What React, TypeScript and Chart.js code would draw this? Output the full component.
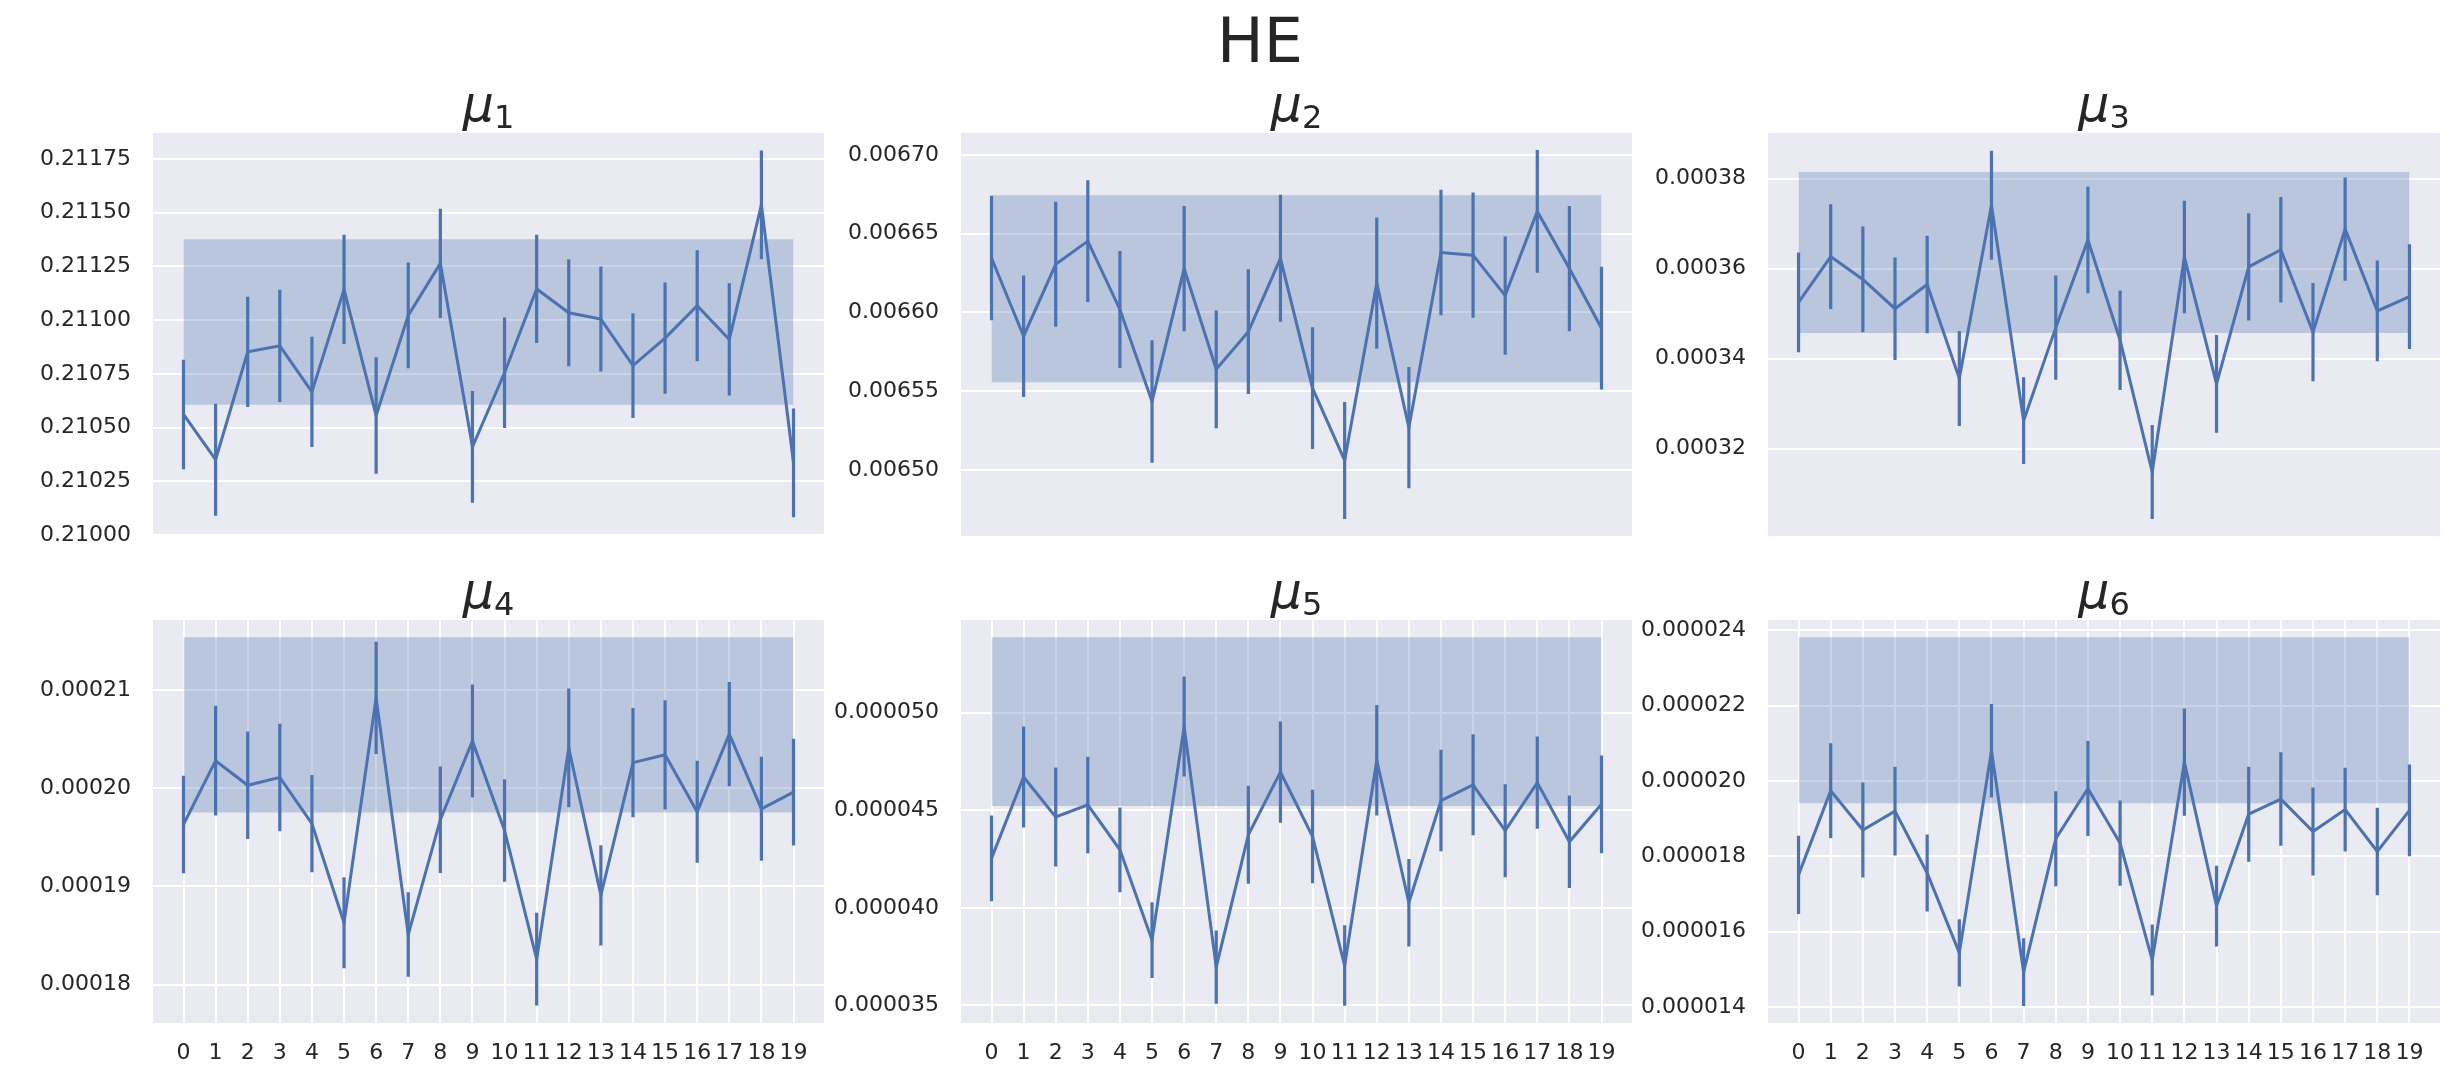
import React, { useEffect, useRef } from "react";
import { Chart, registerables } from "chart.js";

Chart.register(...registerables);

// ---------------- data ----------------
const steps = [0, 1, 2, 3, 4, 5, 6, 7, 8, 9, 10, 11, 12, 13, 14, 15, 16, 17, 18, 19];

const mu1Mean = [0.210561, 0.21035, 0.210852, 0.21088, 0.210666, 0.211143, 0.210556, 0.211022, 0.211264, 0.21041, 0.210755, 0.211145, 0.211034, 0.211005, 0.210788, 0.210916, 0.211067, 0.21091, 0.211536, 0.210335];
const mu1Err = [0.000255, 0.000261, 0.000257, 0.000261, 0.000257, 0.000254, 0.000271, 0.000246, 0.000254, 0.00026, 0.000257, 0.000252, 0.000249, 0.000244, 0.000244, 0.000259, 0.000258, 0.000261, 0.000253, 0.000253];
const mu1Band = [0.210606, 0.211376];
const mu1Ticks = [0.21, 0.21025, 0.2105, 0.21075, 0.211, 0.21125, 0.2115, 0.21175];
const mu1TickLabels = ["0.21000", "0.21025", "0.21050", "0.21075", "0.21100", "0.21125", "0.21150", "0.21175"];

const mu2Mean = [0.0066346, 0.0065849, 0.0066306, 0.0066453, 0.0066019, 0.0065435, 0.0066279, 0.0065639, 0.0065878, 0.0066344, 0.0065519, 0.006506, 0.0066186, 0.0065269, 0.0066381, 0.0066364, 0.0066107, 0.0066642, 0.0066279, 0.00659];
const mu2Err = [3.95e-5, 3.86e-5, 3.97e-5, 3.87e-5, 3.72e-5, 3.89e-5, 3.98e-5, 3.74e-5, 3.96e-5, 4.03e-5, 3.87e-5, 3.72e-5, 4.17e-5, 3.85e-5, 3.98e-5, 3.98e-5, 3.75e-5, 3.9e-5, 3.98e-5, 3.9e-5];
const mu2Band = [0.0065556, 0.0066745];
const mu2Ticks = [0.0065, 0.00655, 0.0066, 0.00665, 0.0067];
const mu2TickLabels = ["0.00650", "0.00655", "0.00660", "0.00665", "0.00670"];

const mu3Mean = [0.0003525, 0.0003627, 0.0003576, 0.0003511, 0.0003565, 0.0003356, 0.0003741, 0.0003262, 0.0003469, 0.0003664, 0.0003441, 0.0003148, 0.0003626, 0.0003344, 0.0003604, 0.0003642, 0.0003459, 0.0003688, 0.0003506, 0.0003538];
const mu3Err = [1.109e-5, 1.164e-5, 1.175e-5, 1.138e-5, 1.083e-5, 1.057e-5, 1.212e-5, 9.64e-6, 1.157e-5, 1.187e-5, 1.105e-5, 1.046e-5, 1.25e-5, 1.086e-5, 1.194e-5, 1.172e-5, 1.094e-5, 1.149e-5, 1.12e-5, 1.164e-5];
const mu3Band = [0.0003457, 0.0003815];
const mu3Ticks = [0.00032, 0.00034, 0.00036, 0.00038];
const mu3TickLabels = ["0.00032", "0.00034", "0.00036", "0.00038"];

const mu4Mean = [0.0001963, 0.0002028, 0.0002003, 0.0002011, 0.0001964, 0.0001863, 0.0002092, 0.0001851, 0.0001968, 0.0002048, 0.0001957, 0.0001826, 0.0002041, 0.0001891, 0.0002026, 0.0002034, 0.0001976, 0.0002055, 0.0001979, 0.0001996];
const mu4Err = [4.97e-6, 5.58e-6, 5.47e-6, 5.47e-6, 4.95e-6, 4.63e-6, 5.71e-6, 4.3e-6, 5.42e-6, 5.75e-6, 5.22e-6, 4.71e-6, 6.05e-6, 5.1e-6, 5.56e-6, 5.56e-6, 5.19e-6, 5.3e-6, 5.29e-6, 5.44e-6];
const mu4Band = [0.00019753, 0.00021536];
const mu4Ticks = [0.00018, 0.00019, 0.0002, 0.00021];
const mu4TickLabels = ["0.00018", "0.00019", "0.00020", "0.00021"];

const mu5Mean = [4.253e-5, 4.67e-5, 4.465e-5, 4.527e-5, 4.297e-5, 3.834e-5, 4.928e-5, 3.696e-5, 4.374e-5, 4.695e-5, 4.365e-5, 3.704e-5, 4.756e-5, 4.026e-5, 4.549e-5, 4.63e-5, 4.395e-5, 4.641e-5, 4.338e-5, 4.53e-5];
const mu5Err = [2.2e-6, 2.59e-6, 2.53e-6, 2.47e-6, 2.17e-6, 1.94e-6, 2.56e-6, 1.88e-6, 2.51e-6, 2.59e-6, 2.39e-6, 2.06e-6, 2.83e-6, 2.24e-6, 2.6e-6, 2.59e-6, 2.38e-6, 2.36e-6, 2.37e-6, 2.5e-6];
const mu5Band = [4.522e-5, 5.386e-5];
const mu5Ticks = [0.000035, 0.00004, 0.000045, 0.00005];
const mu5TickLabels = ["0.000035", "0.000040", "0.000045", "0.000050"];

const mu6Mean = [1.751e-5, 1.974e-5, 1.87e-5, 1.92e-5, 1.756e-5, 1.544e-5, 2.08e-5, 1.493e-5, 1.847e-5, 1.98e-5, 1.835e-5, 1.525e-5, 2.05e-5, 1.668e-5, 1.912e-5, 1.952e-5, 1.866e-5, 1.924e-5, 1.813e-5, 1.922e-5];
const mu6Err = [1.04e-6, 1.26e-6, 1.26e-6, 1.18e-6, 1.02e-6, 8.9e-7, 1.24e-6, 9e-7, 1.26e-6, 1.26e-6, 1.13e-6, 9.4e-7, 1.42e-6, 1.07e-6, 1.26e-6, 1.24e-6, 1.17e-6, 1.11e-6, 1.16e-6, 1.22e-6];
const mu6Band = [1.941e-5, 2.381e-5];
const mu6Ticks = [0.000014, 0.000016, 0.000018, 0.00002, 0.000022, 0.000024];
const mu6TickLabels = ["0.000014", "0.000016", "0.000018", "0.000020", "0.000022", "0.000024"];

const suptitle = "HE";

// ---------------- layout / style ----------------
const BLUE = "#4C72B0";
const BAND = "rgba(76,114,176,0.3)";
const FACE = "#EAEAF2";
const TEXT = "#262626";
const FONT = "'DejaVu Sans', sans-serif";

const PAD_L = 150;
const PAD_T = 70;
const PAD_R = 30;
const X_AX_H = 50;

type Panel = {
  sub: string;
  mean: number[];
  err: number[];
  band: number[];
  ticks: number[];
  tickLabels: string[];
  yMin: number;
  yMax: number;
  left: number;
  top: number;
  width: number;
  height: number;
  bottomRow: boolean;
};

const panels: Panel[] = [
  { sub: "1", mean: mu1Mean, err: mu1Err, band: mu1Band, ticks: mu1Ticks, tickLabels: mu1TickLabels, yMin: 0.209995, yMax: 0.211871, left: 153, top: 133, width: 671, height: 403, bottomRow: false },
  { sub: "2", mean: mu2Mean, err: mu2Err, band: mu2Band, ticks: mu2Ticks, tickLabels: mu2TickLabels, yMin: 0.006458, yMax: 0.006714, left: 961, top: 133, width: 671, height: 403, bottomRow: false },
  { sub: "3", mean: mu3Mean, err: mu3Err, band: mu3Band, ticks: mu3Ticks, tickLabels: mu3TickLabels, yMin: 0.00030058, yMax: 0.00039016, left: 1768, top: 133, width: 672, height: 403, bottomRow: false },
  { sub: "4", mean: mu4Mean, err: mu4Err, band: mu4Band, ticks: mu4Ticks, tickLabels: mu4TickLabels, yMin: 0.0001761, yMax: 0.00021712, left: 153, top: 620, width: 671, height: 403, bottomRow: true },
  { sub: "5", mean: mu5Mean, err: mu5Err, band: mu5Band, ticks: mu5Ticks, tickLabels: mu5TickLabels, yMin: 0.0000341, yMax: 0.00005474, left: 961, top: 620, width: 671, height: 403, bottomRow: true },
  { sub: "6", mean: mu6Mean, err: mu6Err, band: mu6Band, ticks: mu6Ticks, tickLabels: mu6TickLabels, yMin: 0.00001358, yMax: 0.00002427, left: 1768, top: 620, width: 672, height: 403, bottomRow: true },
];

const decorPlugin = {
  id: "panelDecor",
  beforeDraw(chart: any) {
    const { ctx, chartArea: a } = chart;
    ctx.save();
    ctx.fillStyle = FACE;
    ctx.fillRect(a.left, a.top, a.right - a.left, a.bottom - a.top);
    ctx.restore();
  },
  afterDraw(chart: any, _args: any, opts: any) {
    const { ctx, chartArea: a } = chart;
    const sub = opts.sub as string;
    ctx.save();
    ctx.fillStyle = TEXT;
    ctx.textBaseline = "alphabetic";
    ctx.textAlign = "left";
    const mainFont = `italic 49px ${FONT}`;
    const subFont = `32px ${FONT}`;
    ctx.font = mainFont;
    const wMain = ctx.measureText("\u03bc").width;
    ctx.font = subFont;
    const wSub = ctx.measureText(sub).width;
    const gap = 0;
    const total = wMain + gap + wSub;
    const cx = (a.left + a.right) / 2;
    const x0 = cx - total / 2;
    const base = a.top - 12;
    ctx.font = mainFont;
    ctx.fillText("\u03bc", x0, base);
    ctx.font = subFont;
    ctx.fillText(sub, x0 + wMain + gap, base + 7);
    ctx.restore();
  },
};

function PanelChart({ p }: { p: Panel }) {
  const ref = useRef<HTMLCanvasElement | null>(null);
  useEffect(() => {
    if (!ref.current) return;
    const lineData = steps.map((s, i) => ({ x: s, y: p.mean[i] }));
    const errData: any[] = [];
    steps.forEach((s, i) => {
      errData.push({ x: s, y: p.mean[i] - p.err[i] });
      errData.push({ x: s, y: p.mean[i] + p.err[i] });
      errData.push({ x: s, y: null });
    });
    const first = steps[0];
    const last = steps[steps.length - 1];
    const chart = new Chart(ref.current, {
      type: "line",
      data: {
        datasets: [
          { data: lineData, borderColor: BLUE, borderWidth: 3, pointRadius: 0, tension: 0, fill: false, order: 0 } as any,
          { data: errData, borderColor: BLUE, borderWidth: 3.2, pointRadius: 0, tension: 0, fill: false, spanGaps: false, borderCapStyle: "butt", order: 1 } as any,
          { data: [{ x: first, y: p.band[1] }, { x: last, y: p.band[1] }], borderColor: "rgba(0,0,0,0)", borderWidth: 0, pointRadius: 0, fill: false, order: 2 } as any,
          { data: [{ x: first, y: p.band[0] }, { x: last, y: p.band[0] }], borderColor: "rgba(0,0,0,0)", borderWidth: 0, pointRadius: 0, fill: "-1", backgroundColor: BAND, order: 3 } as any,
        ],
      },
      options: {
        animation: false,
        responsive: false,
        maintainAspectRatio: false,
        events: [],
        layout: { padding: { left: 0, right: PAD_R, top: PAD_T, bottom: 0 } },
        plugins: {
          legend: { display: false },
          tooltip: { enabled: false },
          title: { display: false },
          panelDecor: { sub: p.sub },
        } as any,
        scales: {
          x: {
            type: "linear",
            min: -0.95,
            max: 19.95,
            afterBuildTicks: (s: any) => {
              s.ticks = steps.map((v) => ({ value: v }));
            },
            afterFit: (s: any) => {
              s.height = X_AX_H;
            },
            grid: { display: p.bottomRow, color: "#FFFFFF", lineWidth: 2, drawTicks: false },
            border: { display: false },
            ticks: {
              display: p.bottomRow,
              padding: 17,
              color: TEXT,
              font: { family: FONT, size: 22 },
              maxRotation: 0,
              autoSkip: false,
              callback: (_v: any, i: number) => String(steps[i]),
            },
          },
          y: {
            type: "linear",
            min: p.yMin,
            max: p.yMax,
            afterBuildTicks: (s: any) => {
              s.ticks = p.ticks.map((v) => ({ value: v }));
            },
            afterFit: (s: any) => {
              s.width = PAD_L;
            },
            grid: { color: "#FFFFFF", lineWidth: 2, drawTicks: false },
            border: { display: false },
            ticks: {
              padding: 22,
              color: TEXT,
              font: { family: FONT, size: 22 },
              autoSkip: false,
              callback: (_v: any, i: number) => p.tickLabels[i],
            },
          },
        },
      },
      plugins: [decorPlugin],
    });
    return () => chart.destroy();
  }, [p]);

  const cw = PAD_L + p.width + PAD_R;
  const ch = PAD_T + p.height + X_AX_H;
  return (
    <canvas
      ref={ref}
      width={cw}
      height={ch}
      style={{ position: "absolute", left: p.left - PAD_L, top: p.top - PAD_T, width: cw, height: ch }}
    />
  );
}

export default function App() {
  return (
    <div style={{ position: "absolute", left: 0, top: 0, width: 2449, height: 1069, background: "#FFFFFF", overflow: "hidden" }}>
      <div
        style={{
          position: "absolute",
          left: 1060,
          width: 400,
          top: 10,
          textAlign: "center",
          fontFamily: FONT,
          fontSize: 62,
          lineHeight: "62px",
          color: TEXT,
        }}
      >
        {suptitle}
      </div>
      {panels.map((p, i) => (
        <PanelChart key={i} p={p} />
      ))}
    </div>
  );
}
